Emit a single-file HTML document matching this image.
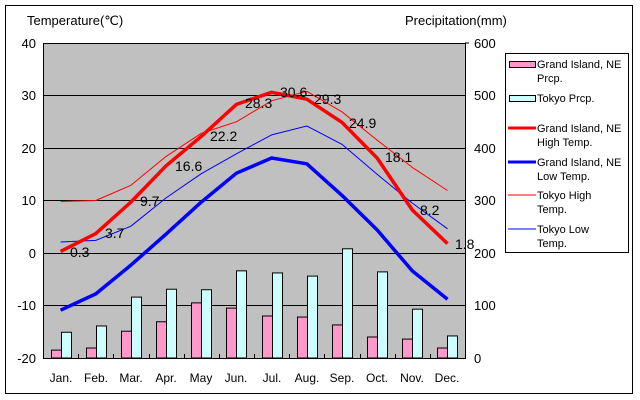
<!DOCTYPE html>
<html><head><meta charset="utf-8"><style>
html,body{margin:0;padding:0;background:#fff;}
svg{display:block;font-family:"Liberation Sans",sans-serif;}
</style></head><body>
<svg width="640" height="400" viewBox="0 0 640 400" xmlns="http://www.w3.org/2000/svg">
<rect x="0" y="0" width="640" height="400" fill="#fff"/>
<rect x="5.5" y="5.5" width="627" height="388" fill="#fff" stroke="#000" stroke-width="1"/>
<rect x="43.5" y="43.5" width="422" height="315" fill="#c0c0c0" stroke="#000" stroke-width="1"/>
<g stroke="#000" stroke-width="1">
<line x1="43" y1="95.5" x2="465" y2="95.5"/>
<line x1="43" y1="148.5" x2="465" y2="148.5"/>
<line x1="43" y1="200.5" x2="465" y2="200.5"/>
<line x1="43" y1="253.5" x2="465" y2="253.5"/>
<line x1="43" y1="305.5" x2="465" y2="305.5"/>
</g>
<g id="bars" stroke="#000" stroke-width="1"></g>
<g id="lines" fill="none" stroke-linejoin="round"></g>
<g font-size="14" fill="#000">
<text x="70" y="257">0.3</text>
<text x="105" y="238">3.7</text>
<text x="140" y="206">9.7</text>
<text x="175" y="171">16.6</text>
<text x="210" y="141">22.2</text>
<text x="245" y="108">28.3</text>
<text x="280" y="97">30.6</text>
<text x="314" y="104">29.3</text>
<text x="349" y="128">24.9</text>
<text x="385" y="162">18.1</text>
<text x="420" y="215">8.2</text>
<text x="455" y="249">1.8</text>
</g>
<g font-size="13" fill="#000">
<text x="27" y="25">Temperature(℃)</text>
<text x="405" y="25">Precipitation(mm)</text>
<g text-anchor="end">
<text x="36" y="48">40</text><text x="36" y="100">30</text><text x="36" y="153">20</text>
<text x="36" y="205">10</text><text x="36" y="258">0</text><text x="36" y="310">-10</text><text x="36" y="363">-20</text>
</g>
<g text-anchor="start">
<text x="474" y="48">600</text><text x="474" y="100">500</text><text x="474" y="153">400</text>
<text x="474" y="205">300</text><text x="474" y="258">200</text><text x="474" y="310">100</text><text x="474" y="363">0</text>
</g>
<g text-anchor="middle" font-size="12">
<text x="61" y="382">Jan.</text><text x="96" y="382">Feb.</text><text x="131" y="382">Mar.</text>
<text x="166" y="382">Apr.</text><text x="201" y="382">May</text><text x="236" y="382">Jun.</text>
<text x="272" y="382">Jul.</text><text x="307" y="382">Aug.</text><text x="342" y="382">Sep.</text>
<text x="377" y="382">Oct.</text><text x="412" y="382">Nov.</text><text x="447" y="382">Dec.</text>
</g>
</g>
<rect x="505.5" y="53.5" width="123" height="199" fill="#fff" stroke="#000"/>
<rect x="509.5" y="61.5" width="26" height="6" fill="#ff99cc" stroke="#000"/>
<rect x="509.5" y="95.5" width="26" height="6" fill="#ccffff" stroke="#000"/>
<line x1="508" y1="128" x2="536" y2="128" stroke="#f00" stroke-width="3"/>
<line x1="508" y1="162" x2="536" y2="162" stroke="#00f" stroke-width="3"/>
<line x1="508" y1="195" x2="536" y2="195" stroke="#f00" stroke-width="1"/>
<line x1="508" y1="229" x2="536" y2="229" stroke="#00f" stroke-width="1"/>
<g font-size="11" fill="#000">
<text x="537" y="68">Grand Island, NE</text><text x="537" y="82">Prcp.</text>
<text x="537" y="102">Tokyo Prcp.</text>
<text x="537" y="132">Grand Island, NE</text><text x="537" y="146">High Temp.</text>
<text x="537" y="166">Grand Island, NE</text><text x="537" y="180">Low Temp.</text>
<text x="537" y="199">Tokyo High</text><text x="537" y="213">Temp.</text>
<text x="537" y="233">Tokyo Low</text><text x="537" y="247">Temp.</text>
</g>
<g stroke="#000"><line x1="465" y1="43" x2="469" y2="43"/></g>
<script>
(function(){
var NS="http://www.w3.org/2000/svg";
function cx(i){return 43+35.17*(i+0.5);}
function ty(t){return 43+(40-t)*5.25;}
function py(p){return 358-p*0.525;}
var gip=[15,19,51,69,105,95,80,78,63,40,36,19];
var tkp=[49,61,116,131,130,166,162,156,208,164,93,42];
var b=document.getElementById('bars');
for(var i=0;i<12;i++){
 var c=Math.round(cx(i));
 var r=document.createElementNS(NS,'rect');
 r.setAttribute('x',c-10+0.5);r.setAttribute('y',py(gip[i]));r.setAttribute('width',10);r.setAttribute('height',358-py(gip[i]));r.setAttribute('fill','#ff99cc');b.appendChild(r);
 r=document.createElementNS(NS,'rect');
 r.setAttribute('x',c+0.5);r.setAttribute('y',py(tkp[i]));r.setAttribute('width',10);r.setAttribute('height',358-py(tkp[i]));r.setAttribute('fill','#ccffff');b.appendChild(r);
 var t=document.createElementNS(NS,'line');
 var tx=Math.round(43+35.17*(i+1))+0.5;
 t.setAttribute('x1',tx);t.setAttribute('x2',tx);t.setAttribute('y1',358);t.setAttribute('y2',354);t.setAttribute('stroke','#000');b.appendChild(t);
}
var series=[
 [[9.8,10.0,12.9,18.4,22.8,25.0,29.0,30.8,26.9,21.5,16.3,11.9],'#f00',1],
 [[2.1,2.4,5.1,10.5,15.1,18.9,22.5,24.2,20.7,15.0,9.5,4.6],'#00f',1],
 [[0.3,3.7,9.7,16.6,22.2,28.3,30.6,29.3,24.9,18.1,8.2,1.8],'#f00',3.5],
 [[-10.9,-7.8,-2.3,3.6,9.7,15.2,18.1,17.0,11.0,4.4,-3.4,-8.8],'#00f',3.5]
];
var L=document.getElementById('lines');
series.forEach(function(s){
 var pts=s[0].map(function(v,i){return cx(i).toFixed(1)+','+ty(v).toFixed(1);}).join(' ');
 var p=document.createElementNS(NS,'polyline');
 p.setAttribute('points',pts);p.setAttribute('stroke',s[1]);p.setAttribute('stroke-width',s[2]);L.appendChild(p);
});
})();
</script>
</svg>
</body></html>
